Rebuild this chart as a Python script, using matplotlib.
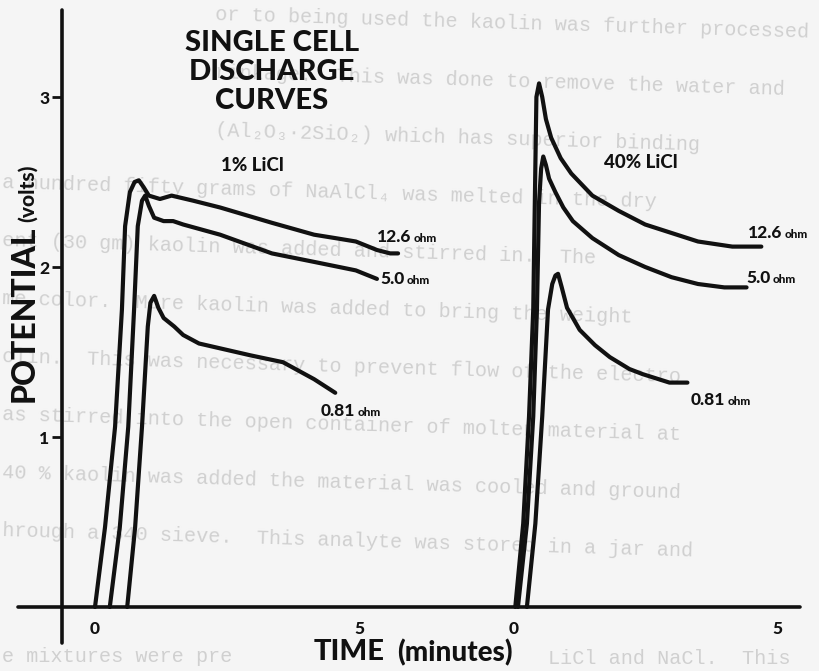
import matplotlib
matplotlib.use('Agg')
import matplotlib.pyplot as plt

# ---------------- data (time in minutes, potential in volts) ----------------
# 1% LiCl panel
t1_r126 = [0, 0.19, 0.38, 0.51, 0.57, 0.66, 0.75, 0.83, 0.92, 1.02, 1.23, 1.45, 1.86, 2.37, 3.35, 4.15, 4.55, 4.94, 5.34, 5.59, 5.74]
v1_r126 = [0, 0.47, 1.06, 1.75, 2.24, 2.44, 2.50, 2.51, 2.47, 2.42, 2.40, 2.42, 2.39, 2.35, 2.26, 2.19, 2.17, 2.15, 2.10, 2.08, 2.08]
t1_r50 = [0.28, 0.47, 0.63, 0.74, 0.81, 0.89, 0.95, 1.02, 1.12, 1.30, 1.48, 1.67, 2.37, 3.35, 4.15, 4.94, 5.34]
v1_r50 = [0, 0.47, 1.06, 1.75, 2.24, 2.39, 2.42, 2.36, 2.29, 2.27, 2.27, 2.25, 2.19, 2.08, 2.03, 1.98, 1.93]
t1_r081 = [0.61, 0.76, 0.89, 1.00, 1.05, 1.12, 1.20, 1.30, 1.50, 1.67, 1.97, 2.95, 3.56, 4.15, 4.55]
v1_r081 = [0, 0.47, 1.06, 1.65, 1.79, 1.83, 1.76, 1.70, 1.65, 1.60, 1.55, 1.48, 1.44, 1.34, 1.26]
# 40% LiCl panel
t2_r126 = [0.04, 0.19, 0.30, 0.38, 0.42, 0.44, 0.49, 0.55, 0.62, 0.72, 0.90, 1.10, 1.50, 2.00, 2.50, 3.00, 3.50, 4.15, 4.70]
v2_r126 = [0, 0.49, 1.12, 1.75, 2.59, 3.00, 3.08, 3.00, 2.87, 2.76, 2.64, 2.55, 2.42, 2.33, 2.25, 2.20, 2.15, 2.12, 2.12]
t2_r50 = [0.09, 0.26, 0.38, 0.45, 0.49, 0.53, 0.57, 0.62, 0.68, 0.80, 0.95, 1.13, 1.50, 2.00, 2.50, 3.00, 3.50, 4.00, 4.42]
v2_r50 = [0, 0.49, 1.12, 1.75, 2.38, 2.58, 2.65, 2.60, 2.52, 2.44, 2.35, 2.27, 2.17, 2.07, 2.00, 1.94, 1.90, 1.88, 1.88]
t2_r081 = [0.26, 0.42, 0.55, 0.66, 0.74, 0.80, 0.85, 0.92, 1.02, 1.26, 1.55, 1.83, 2.20, 2.45, 2.96, 3.30]
v2_r081 = [0, 0.49, 1.12, 1.75, 1.90, 1.95, 1.96, 1.88, 1.76, 1.63, 1.54, 1.47, 1.40, 1.37, 1.32, 1.32]

panel2_offset = 7.92          # where the second time axis starts
xtick_values = [0, 5, 0, 5]
ytick_values = [1, 2, 3]
ohm_labels = ["12.6", "5.0", "0.81"]

# faint typewritten page text showing through the scan
background_lines = [
    "or to being used the kaolin was further processed",
    "rinkage.  This was done to remove the water and",
    "(Al\u2082O\u2083\u00b72SiO\u2082) which has superior binding",
    "a hundred fifty grams of NaAlCl\u2084 was melted in the dry",
    "ent (30 gm) kaolin was added and stirred in.  The",
    "me color.  More kaolin was added to bring the weight",
    "olin.  This was necessary to prevent flow of the electro",
    "as stirred into the open container of molten material at",
    "40 % kaolin was added the material was cooled and ground",
    "hrough a 340 sieve.  This analyte was stored in a jar and",
]
bottom_line_left = "e mixtures were pre"
bottom_line_right = "LiCl and NaCl.  This"

# ---------------- figure ----------------
W, H = 820, 671
X0, PXM = 95, 52.8     # pixel of t=0, pixels per minute
Y0, PXV = 607, 170     # pixel of V=0, pixels per volt
FONT = ['Lato', 'DejaVu Sans']
INK = '#111111'
PAPER_TEXT = '#d0d0d0'

fig = plt.figure(figsize=(W / 100, H / 100), dpi=100)
fig.patch.set_facecolor('#f5f5f5')
ax = fig.add_axes([0, 0, 1, 1])
ax.set_facecolor('none')
ax.set_xlim(-X0 / PXM, (W - X0) / PXM)
ax.set_ylim((Y0 - H) / PXV, Y0 / PXV)


def fxy(x, y):
    return x / W, 1 - y / H


for k, line in enumerate(background_lines):
    y = 20 + 58 * k
    x = 215 if k < 3 else 2
    fig.text(*fxy(x, y - 6 + 0.03 * (x - 200)), line, family='Liberation Mono',
             fontsize=14.5, color=PAPER_TEXT, rotation=-1.7, rotation_mode='anchor',
             ha='left', va='center', zorder=-1)
fig.text(*fxy(2, 656), bottom_line_left, family='Liberation Mono', fontsize=14.5,
         color=PAPER_TEXT, ha='left', va='center', zorder=-1)
fig.text(*fxy(548, 659), bottom_line_right, family='Liberation Mono', fontsize=14.5,
         color=PAPER_TEXT, ha='left', va='center', zorder=-1)

lw = 3.0
for t, v in [(t1_r126, v1_r126), (t1_r50, v1_r50), (t1_r081, v1_r081)]:
    ax.plot(t, v, color=INK, lw=lw, solid_joinstyle='round', solid_capstyle='round')
for t, v in [(t2_r126, v2_r126), (t2_r50, v2_r50), (t2_r081, v2_r081)]:
    ax.plot([ti + panel2_offset for ti in t], v, color=INK, lw=lw,
            solid_joinstyle='round', solid_capstyle='round')

# axes lines
for s in ['top', 'right']:
    ax.spines[s].set_visible(False)
ax.spines['left'].set_position(('data', (62 - X0) / PXM))
ax.spines['left'].set_bounds((Y0 - 643) / PXV, (Y0 - 10) / PXV)
ax.spines['bottom'].set_position(('data', 0))
ax.spines['bottom'].set_bounds((18 - X0) / PXM, (800 - X0) / PXM)
for s in ['left', 'bottom']:
    ax.spines[s].set_linewidth(2.6)
    ax.spines[s].set_color(INK)
    ax.spines[s].set_capstyle('round')

ax.set_yticks(ytick_values)
ax.set_yticklabels([str(v) for v in ytick_values])
ax.set_xticks([0, 5, panel2_offset, panel2_offset + 5])
ax.set_xticklabels([str(v) for v in xtick_values])
ax.tick_params(axis='y', length=7, width=2, color=INK, pad=2, labelsize=12.5)
ax.tick_params(axis='x', length=0, pad=10, labelsize=12.5)
for lab in ax.get_xticklabels() + ax.get_yticklabels():
    lab.set_family(FONT)
    lab.set_fontweight('black')
    lab.set_color(INK)

# title and panel labels
fig.text(*fxy(272, 72), "SINGLE CELL\nDISCHARGE\nCURVES", ha='center', va='center',
         family=FONT, fontweight='black', fontsize=21, linespacing=1.15, color=INK)
fig.text(*fxy(252, 165), "1% LiCl", ha='center', va='center', family=FONT,
         fontweight='black', fontsize=13.5, color=INK)
fig.text(*fxy(641, 163), "40% LiCl", ha='center', va='center', family=FONT,
         fontweight='black', fontsize=13.5, color=INK)

# axis titles
fig.text(*fxy(24, 314), "POTENTIAL", rotation=90, ha='center', va='center',
         family=FONT, fontweight='black', fontsize=23, color=INK)
fig.text(*fxy(27, 193), "(volts)", rotation=90, ha='center', va='center',
         family=FONT, fontweight='black', fontsize=15, color=INK)
fig.text(*fxy(349, 652), "TIME", ha='center', va='center',
         family=FONT, fontweight='black', fontsize=21, color=INK)
fig.text(*fxy(455, 653), "(minutes)", ha='center', va='center',
         family=FONT, fontweight='black', fontsize=20, color=INK)

# resistance labels
renderer = fig.canvas.get_renderer()


def ohm_label(x, y_base, num):
    t = fig.text(*fxy(x, y_base), num, ha='left', va='baseline', family=FONT,
                 fontweight='black', fontsize=12.5, color=INK)
    bb = t.get_window_extent(renderer)
    fig.text((bb.x1 + 2) / W, 1 - y_base / H, "ohm", ha='left', va='baseline',
             family=FONT, fontweight='black', fontsize=8.5, color=INK)


ohm_label(377, 242, ohm_labels[0])
ohm_label(380, 284, ohm_labels[1])
ohm_label(321, 416, ohm_labels[2])
ohm_label(748, 238, ohm_labels[0])
ohm_label(746, 283, ohm_labels[1])
ohm_label(691, 405, ohm_labels[2])

fig.savefig('out.png', dpi=100, facecolor=fig.get_facecolor())
